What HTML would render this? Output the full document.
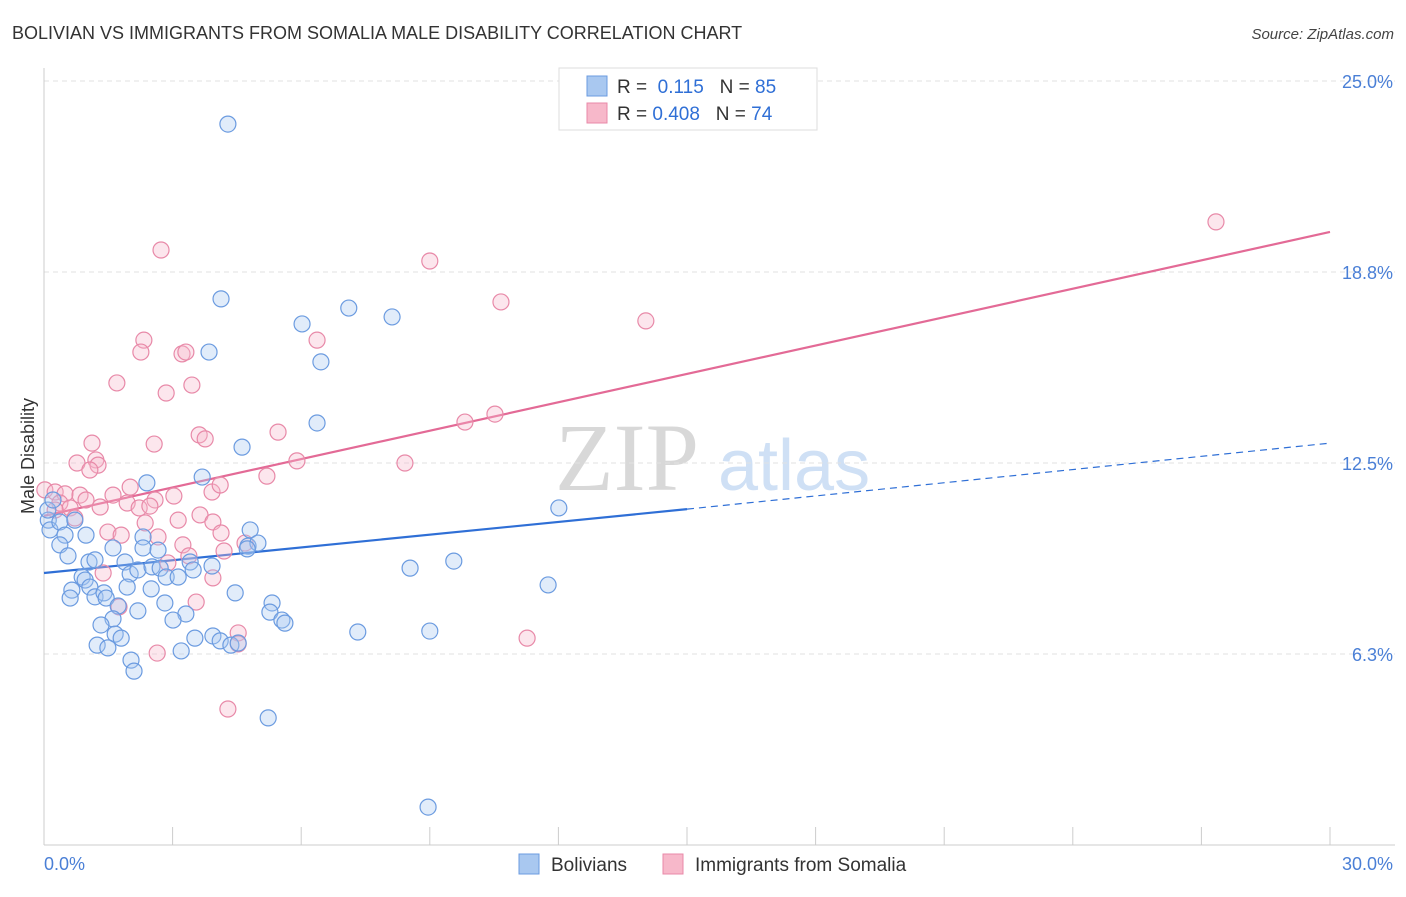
<!DOCTYPE html>
<html><head><meta charset="utf-8"><style>
body{margin:0;background:#fff;font-family:"Liberation Sans",sans-serif;}
</style></head><body>
<svg id="chart" width="1406" height="892" xmlns="http://www.w3.org/2000/svg" font-family="Liberation Sans, sans-serif">
<text x="12" y="39" font-size="18" fill="#333">BOLIVIAN VS IMMIGRANTS FROM SOMALIA MALE DISABILITY CORRELATION CHART</text>
<text x="1394" y="39" font-size="15" fill="#444" text-anchor="end" font-style="italic">Source: ZipAtlas.com</text>
<g>
<text x="555" y="490" font-size="96" fill="#d8d8d8" font-family="Liberation Serif, serif">ZIP</text>
<text x="718" y="490" font-size="72" fill="#cfe0f5">atlas</text>
</g>
<g id="grid"></g>
<g id="axes"></g>
<g id="lines"></g>
<g id="points"></g>
<text transform="translate(34,456) rotate(-90)" font-size="18" fill="#333" text-anchor="middle">Male Disability</text>
<g>
<rect x="559" y="68" width="258" height="62" fill="#fff" stroke="#ddd"/>
<rect x="587" y="76" width="20" height="20" fill="#a9c8f0" stroke="#6b9be0"/>
<rect x="587" y="103" width="20" height="20" fill="#f7b8ca" stroke="#e889a8"/>
<text x="617" y="93" font-size="19" fill="#333">R = <tspan fill="#2f6fd6">&#160;0.115</tspan>&#160;&#160;&#160;N = <tspan fill="#2f6fd6">85</tspan></text>
<text x="617" y="120" font-size="19" fill="#333">R = <tspan fill="#2f6fd6">0.408</tspan>&#160;&#160;&#160;N = <tspan fill="#2f6fd6">74</tspan></text>
</g>
<g>
<rect x="519" y="854" width="20" height="20" fill="#a9c8f0" stroke="#6b9be0"/>
<text x="551" y="871" font-size="19" fill="#333">Bolivians</text>
<rect x="663" y="854" width="20" height="20" fill="#f7b8ca" stroke="#e889a8"/>
<text x="695" y="871" font-size="19" fill="#333">Immigrants from Somalia</text>
</g>
</svg>
<script>
const yTicks=[6.25,12.5,18.75,25];
const yTickLabels=["6.3%","12.5%","18.8%","25.0%"];
const xTicks=[0,3,6,9,12,15,18,21,24,27,30];
const xEndLabels=["0.0%","30.0%"];
const blueX=[4.29,4.13,3.85,6.02,7.11,8.12,6.46,6.37,4.62,3.69,2.40,12.01,4.81,4.76,4.99,0.1,0.14,0.37,0.72,0.09,0.21,0.49,0.98,0.37,0.56,1.05,1.19,1.61,2.31,2.31,2.66,1.89,2.01,2.19,2.52,2.71,2.85,3.13,3.41,3.48,3.92,0.89,0.96,0.65,0.61,1.07,1.19,1.40,1.45,1.73,1.94,2.50,2.19,2.82,3.31,3.01,4.46,5.32,5.27,5.55,5.62,8.54,9.56,11.76,1.61,1.33,1.66,1.80,1.24,1.49,2.03,2.10,3.20,3.52,3.94,4.11,4.36,4.53,7.32,9.00,5.23,8.96,4.74];
const blueY=[23.59,17.87,16.13,17.05,17.57,17.28,15.81,13.81,13.02,12.04,11.85,11.03,10.31,9.78,9.88,10.63,10.31,10.57,10.63,10.96,11.29,10.14,10.14,9.82,9.46,9.26,9.33,9.72,10.08,9.72,9.65,9.26,8.87,9.00,9.10,9.06,8.77,8.77,9.26,9.00,9.13,8.77,8.67,8.34,8.08,8.44,8.12,8.25,8.08,7.82,8.44,8.38,7.66,7.92,7.56,7.36,8.25,7.92,7.62,7.36,7.26,9.06,9.29,8.51,7.40,7.20,6.90,6.77,6.54,6.45,6.05,5.69,6.35,6.77,6.84,6.68,6.54,6.61,6.97,7.00,4.16,1.24,9.69];
const pinkX=[2.73,9.00,10.66,14.04,27.34,6.37,2.33,2.26,3.22,3.31,1.70,2.85,3.45,9.82,10.52,3.62,3.76,2.57,1.12,5.46,0.77,1.21,1.26,1.07,5.90,8.42,5.20,3.92,4.11,2.01,1.61,3.03,2.59,0.02,0.26,0.49,0.84,0.98,0.37,0.61,1.31,1.94,2.22,2.47,3.64,2.36,3.13,3.94,1.49,1.80,2.66,4.13,3.24,4.69,4.20,3.38,2.89,1.38,3.94,1.75,3.55,4.53,4.53,2.64,11.27,4.29,0.72,0.26];
const pinkY=[19.47,19.11,17.77,17.15,20.39,16.52,16.52,16.13,16.07,16.13,15.12,14.79,15.05,13.84,14.10,13.42,13.29,13.12,13.15,13.51,12.50,12.60,12.43,12.27,12.57,12.50,12.07,11.55,11.78,11.71,11.45,11.42,11.29,11.62,11.55,11.49,11.45,11.29,11.19,11.03,11.06,11.19,11.03,11.09,10.80,10.54,10.63,10.57,10.24,10.14,10.08,10.21,9.82,9.88,9.62,9.46,9.23,8.90,8.74,7.79,7.95,6.94,6.58,6.28,6.77,4.45,10.70,10.96];
const blueTrend=[8.90,10.99,13.15]; // at x=0,15,30
const pinkTrend=[10.77,20.06]; // at x=0,30
const NS="http://www.w3.org/2000/svg";
const X0=44,X1=1330,YB=845,YT=81;
const sx=v=>X0+(v/30)*(X1-X0);
const sy=v=>YB-(v/25)*(YB-YT);
function mk(tag,attrs,parent){const e=document.createElementNS(NS,tag);for(const k in attrs)e.setAttribute(k,attrs[k]);document.getElementById(parent).appendChild(e);return e;}
yTicks.forEach((t,i)=>{
  const g=mk('line',{x1:X0,x2:1395,y1:sy(t),y2:sy(t),stroke:'#e2e2e2','stroke-dasharray':'5,4'},'grid');
  
  
  const l=mk('text',{x:1393,y:sy(t)+7,'font-size':18,fill:'#4a7fd6','text-anchor':'end'},'axes');
  l.textContent=yTickLabels[i];
  
  
});
const ax=mk('line',{x1:X0,x2:X0,y1:68,y2:YB,stroke:'#ccc'},'axes');


const bx=mk('line',{x1:X0,x2:1395,y1:YB,y2:YB,stroke:'#ccc'},'axes');


xTicks.forEach(t=>{
  const k=mk('line',{x1:sx(t),x2:sx(t),y1:827,y2:YB,stroke:'#ccc'},'axes');
  
  
});
const xl0=mk('text',{x:44,y:870,'font-size':18,fill:'#4a7fd6'},'axes');xl0.textContent=xEndLabels[0];


const xl1=mk('text',{x:1393,y:870,'font-size':18,fill:'#4a7fd6','text-anchor':'end'},'axes');xl1.textContent=xEndLabels[1];


function pts(xs,ys,fill,stroke,name){xs.forEach((x,i)=>{
  const c=mk('circle',{cx:sx(x),cy:sy(ys[i]),r:8,fill:fill,'fill-opacity':0.35,stroke:stroke,'stroke-width':1.2},'points');
  
  
});}
pts(pinkX,pinkY,'#f7b8ca','#e889a8','somalia-point');
pts(blueX,blueY,'#a9c8f0','#6b9be0','bolivian-point');
const b1=mk('line',{x1:sx(0),y1:sy(blueTrend[0]),x2:sx(15),y2:sy(blueTrend[1]),stroke:'#2f6fd6','stroke-width':2.2},'lines');


const b2=mk('line',{x1:sx(15),y1:sy(blueTrend[1]),x2:sx(30),y2:sy(blueTrend[2]),stroke:'#2f6fd6','stroke-width':1.2,'stroke-dasharray':'7,5'},'lines');


const p1=mk('line',{x1:sx(0),y1:sy(pinkTrend[0]),x2:sx(30),y2:sy(pinkTrend[1]),stroke:'#e36a96','stroke-width':2.2},'lines');


</script>
</body></html>
